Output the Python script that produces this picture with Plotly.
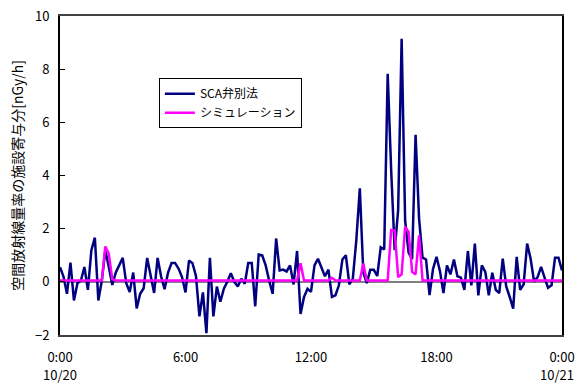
import pandas as pd
import plotly.graph_objects as go

# 10-minute readings, 10/20 0:00 through 10/21 0:00 (145 samples)
sca_values = [
    0.55, 0.20, -0.45, 0.72, -0.70, -0.05, 0.05, 0.56, -0.30, 1.19,
    1.66, -0.70, 0.05, 1.19, 0.56, -0.12, 0.35, 0.65, 0.90, -0.05,
    -0.38, 0.35, -1.00, -0.45, -0.24, 0.90, 0.21, -0.42, 0.90, 0.20,
    -0.28, 0.35, 0.71, 0.71, 0.50, 0.18, -0.40, 0.80, 0.70, 0.22,
    -1.30, -0.40, -1.93, 0.90, -1.30, -0.18, -0.75, -0.26, 0.00, 0.32,
    0.00, -0.18, 0.12, -0.07, 0.71, 0.71, -0.92, 1.03, 1.00, 0.62,
    0.04, -0.45, 1.63, 0.43, 0.46, 0.39, 0.62, -0.10, 1.16, -1.21,
    -0.57, -0.26, -0.38, 0.62, 0.87, 0.56, 0.21, 0.46, -0.57, -0.51,
    -0.13, 0.84, 1.00, -0.09, 0.12, 1.57, 3.52, 0.35, -0.05, 0.45,
    0.45, 0.22, 1.30, 1.22, 7.83, 4.20, 1.19, 2.70, 9.14, 2.30,
    1.10, 0.85, 5.53, 2.38, 0.91, 0.84, -0.50, 0.48, 0.94, 0.40,
    -0.42, 0.62, 0.28, 0.84, 0.21, 0.16, -0.30, 1.16, -0.13, 1.44,
    -0.51, 0.62, 0.37, -0.51, 0.34, -0.30, -0.42, 0.87, -0.17, -0.57,
    -1.01, 0.94, -0.30, -0.09, 1.44, 0.87, 0.00, 0.18, 0.56, 0.16,
    -0.22, -0.13, 0.91, 0.91, 0.43,
]

sim_values = [0.05] * 145
sim_peaks = {
    13: 1.33, 14: 1.05, 15: 0.10,
    69: 0.70, 78: 0.15, 87: 0.69,
    95: 1.95, 96: 1.93, 97: 0.18, 98: 0.28, 99: 2.07,
    100: 1.88, 101: 0.38, 102: 0.28, 103: 1.75,
}
for k, v in sim_peaks.items():
    sim_values[k] = v

times = pd.date_range("2010-10-20 00:00", periods=len(sca_values), freq="10min")

tick_times = pd.to_datetime([
    "2010-10-20 00:00", "2010-10-20 06:00", "2010-10-20 12:00",
    "2010-10-20 18:00", "2010-10-21 00:00",
])
tick_labels = ["0:00", "6:00", "12:00", "18:00", "0:00"]
date_labels = ["10/20", "10/21"]

series_names = ["SCA弁別法", "シミュレーション"]
y_title = "空間放射線量率の施設寄与分[nGy/h]"

FONT = "Noto Sans CJK JP"

fig = go.Figure()
fig.add_trace(go.Scatter(
    x=times, y=sca_values, mode="lines", name=series_names[0],
    line=dict(color="#000080", width=2.5),
))
fig.add_trace(go.Scatter(
    x=times, y=sim_values, mode="lines", name=series_names[1],
    line=dict(color="#FF00FF", width=2.5),
))

# date line under the first and last time labels
for t, d, dx in zip([tick_times[0], tick_times[-1]], date_labels, [0, -5]):
    fig.add_annotation(
        x=t, y=0, xref="x", yref="paper", yshift=-39, xshift=dx,
        text=d, showarrow=False, xanchor="center", yanchor="middle",
        borderpad=0,
        font=dict(family=FONT, size=13, color="black"),
    )

fig.update_layout(
    width=576, height=383,
    margin=dict(l=60, r=14, t=16, b=48),
    paper_bgcolor="white", plot_bgcolor="white",
    font=dict(family=FONT, size=13, color="black"),
    showlegend=True,
    legend=dict(
        x=0.197, y=0.805, xanchor="left", yanchor="top",
        bgcolor="white", bordercolor="black", borderwidth=1,
        font=dict(family=FONT, size=12),
        tracegroupgap=0, itemwidth=30,
    ),
    xaxis=dict(
        range=[times[0], times[-1]], automargin=False,
        tickmode="array", tickvals=tick_times, ticktext=tick_labels,
        showgrid=False, zeroline=False,
        showline=True, mirror=True, linecolor="#404040", linewidth=1.5,
        ticks="", ticklabelstandoff=10, ticklabeloverflow="allow",
        tickfont=dict(family=FONT, size=13),
    ),
    yaxis=dict(
        range=[-2, 10], dtick=2, tick0=0, automargin=False,
        showgrid=False,
        zeroline=True, zerolinecolor="#808080", zerolinewidth=1.5,
        showline=True, mirror=True, linecolor="black", linewidth=2,
        ticks="inside", ticklen=5, tickcolor="black", tickwidth=1,
        tickfont=dict(family=FONT, size=13),
        ticklabelstandoff=6,
        title=dict(text=y_title, font=dict(family=FONT, size=14), standoff=8),
    ),
)

fig.write_html("out.html")
